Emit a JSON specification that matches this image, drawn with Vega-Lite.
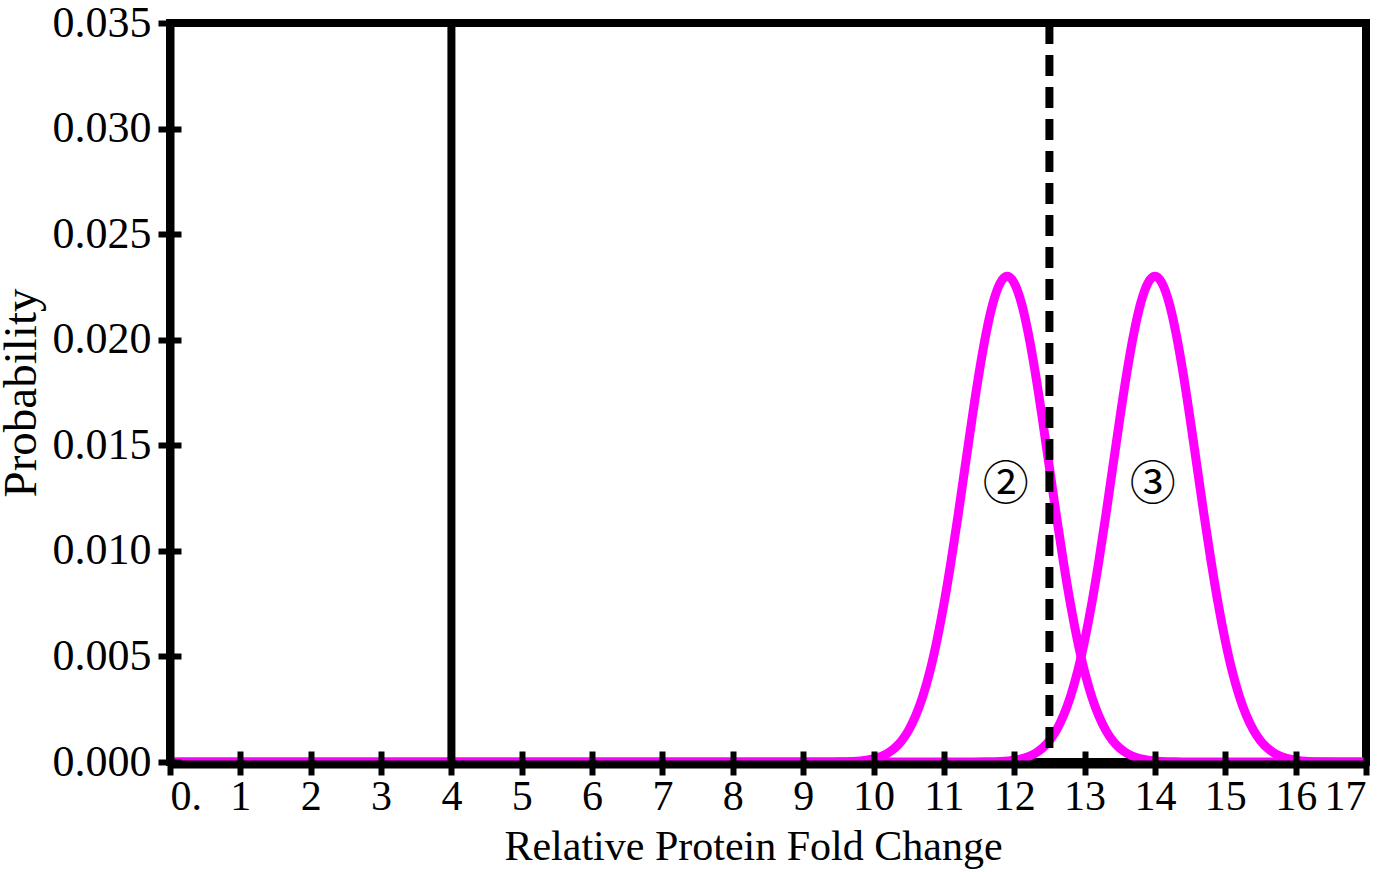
{
  "$schema": "https://vega.github.io/schema/vega-lite/v6.json",
  "width": 1196,
  "height": 739,
  "autosize": {"type": "none"},
  "padding": {"left": 170, "top": 23, "right": 23, "bottom": 110},
  "background": "white",
  "config": {
    "view": {"stroke": "black", "strokeWidth": 8},
    "font": "Liberation Serif",
    "axis": {
      "domainColor": "black", "domainWidth": 8, "tickColor": "black", "tickWidth": 6,
      "labelFont": "Liberation Serif", "titleFont": "Liberation Serif",
      "labelFontSize": 44, "titleFontSize": 44, "labelColor": "black", "titleColor": "black",
      "titleFontWeight": "normal", "grid": false, "zindex": 2
    }
  },
  "datasets": {
    "curves": [
      {"x": 0, "p": 0, "s": "2"}, {"x": 5, "p": 0, "s": "2"},
      {"x": 9.3, "p": 0.0000019, "s": "2"}, {"x": 9.5, "p": 0.0000077, "s": "2"},
      {"x": 9.7, "p": 0.0000277, "s": "2"}, {"x": 9.9, "p": 0.0000889, "s": "2"},
      {"x": 10.0, "p": 0.000153, "s": "2"}, {"x": 10.1, "p": 0.000256, "s": "2"},
      {"x": 10.2, "p": 0.000415, "s": "2"}, {"x": 10.3, "p": 0.000657, "s": "2"},
      {"x": 10.4, "p": 0.00101, "s": "2"}, {"x": 10.5, "p": 0.00151, "s": "2"},
      {"x": 10.6, "p": 0.0022, "s": "2"}, {"x": 10.7, "p": 0.00311, "s": "2"},
      {"x": 10.8, "p": 0.00428, "s": "2"}, {"x": 10.9, "p": 0.00574, "s": "2"},
      {"x": 11.0, "p": 0.00747, "s": "2"}, {"x": 11.1, "p": 0.00946, "s": "2"},
      {"x": 11.2, "p": 0.01164, "s": "2"}, {"x": 11.3, "p": 0.01395, "s": "2"},
      {"x": 11.4, "p": 0.01625, "s": "2"}, {"x": 11.5, "p": 0.01842, "s": "2"},
      {"x": 11.6, "p": 0.0203, "s": "2"}, {"x": 11.7, "p": 0.02176, "s": "2"},
      {"x": 11.8, "p": 0.02268, "s": "2"}, {"x": 11.9, "p": 0.023, "s": "2"},
      {"x": 12.0, "p": 0.02268, "s": "2"}, {"x": 12.1, "p": 0.02176, "s": "2"},
      {"x": 12.2, "p": 0.0203, "s": "2"}, {"x": 12.3, "p": 0.01842, "s": "2"},
      {"x": 12.4, "p": 0.01625, "s": "2"}, {"x": 12.5, "p": 0.01395, "s": "2"},
      {"x": 12.6, "p": 0.01164, "s": "2"}, {"x": 12.7, "p": 0.00946, "s": "2"},
      {"x": 12.8, "p": 0.00747, "s": "2"}, {"x": 12.9, "p": 0.00574, "s": "2"},
      {"x": 13.0, "p": 0.00428, "s": "2"}, {"x": 13.1, "p": 0.00311, "s": "2"},
      {"x": 13.2, "p": 0.0022, "s": "2"}, {"x": 13.3, "p": 0.00151, "s": "2"},
      {"x": 13.4, "p": 0.00101, "s": "2"}, {"x": 13.5, "p": 0.000657, "s": "2"},
      {"x": 13.6, "p": 0.000415, "s": "2"}, {"x": 13.7, "p": 0.000256, "s": "2"},
      {"x": 13.8, "p": 0.000153, "s": "2"}, {"x": 13.9, "p": 0.0000889, "s": "2"},
      {"x": 14.1, "p": 0.0000277, "s": "2"}, {"x": 14.3, "p": 0.0000077, "s": "2"},
      {"x": 14.5, "p": 0.0000019, "s": "2"}, {"x": 17, "p": 0, "s": "2"},
      {"x": 0, "p": 0, "s": "3"}, {"x": 8, "p": 0, "s": "3"},
      {"x": 11.4, "p": 0.0000019, "s": "3"}, {"x": 11.6, "p": 0.0000077, "s": "3"},
      {"x": 11.8, "p": 0.0000277, "s": "3"}, {"x": 12.0, "p": 0.0000889, "s": "3"},
      {"x": 12.1, "p": 0.000153, "s": "3"}, {"x": 12.2, "p": 0.000256, "s": "3"},
      {"x": 12.3, "p": 0.000415, "s": "3"}, {"x": 12.4, "p": 0.000657, "s": "3"},
      {"x": 12.5, "p": 0.00101, "s": "3"}, {"x": 12.6, "p": 0.00151, "s": "3"},
      {"x": 12.7, "p": 0.0022, "s": "3"}, {"x": 12.8, "p": 0.00311, "s": "3"},
      {"x": 12.9, "p": 0.00428, "s": "3"}, {"x": 13.0, "p": 0.00574, "s": "3"},
      {"x": 13.1, "p": 0.00747, "s": "3"}, {"x": 13.2, "p": 0.00946, "s": "3"},
      {"x": 13.3, "p": 0.01164, "s": "3"}, {"x": 13.4, "p": 0.01395, "s": "3"},
      {"x": 13.5, "p": 0.01625, "s": "3"}, {"x": 13.6, "p": 0.01842, "s": "3"},
      {"x": 13.7, "p": 0.0203, "s": "3"}, {"x": 13.8, "p": 0.02176, "s": "3"},
      {"x": 13.9, "p": 0.02268, "s": "3"}, {"x": 14.0, "p": 0.023, "s": "3"},
      {"x": 14.1, "p": 0.02268, "s": "3"}, {"x": 14.2, "p": 0.02176, "s": "3"},
      {"x": 14.3, "p": 0.0203, "s": "3"}, {"x": 14.4, "p": 0.01842, "s": "3"},
      {"x": 14.5, "p": 0.01625, "s": "3"}, {"x": 14.6, "p": 0.01395, "s": "3"},
      {"x": 14.7, "p": 0.01164, "s": "3"}, {"x": 14.8, "p": 0.00946, "s": "3"},
      {"x": 14.9, "p": 0.00747, "s": "3"}, {"x": 15.0, "p": 0.00574, "s": "3"},
      {"x": 15.1, "p": 0.00428, "s": "3"}, {"x": 15.2, "p": 0.00311, "s": "3"},
      {"x": 15.3, "p": 0.0022, "s": "3"}, {"x": 15.4, "p": 0.00151, "s": "3"},
      {"x": 15.5, "p": 0.00101, "s": "3"}, {"x": 15.6, "p": 0.000657, "s": "3"},
      {"x": 15.7, "p": 0.000415, "s": "3"}, {"x": 15.8, "p": 0.000256, "s": "3"},
      {"x": 15.9, "p": 0.000153, "s": "3"}, {"x": 16.0, "p": 0.0000889, "s": "3"},
      {"x": 16.2, "p": 0.0000277, "s": "3"}, {"x": 16.4, "p": 0.0000077, "s": "3"},
      {"x": 16.6, "p": 0.0000019, "s": "3"}, {"x": 17, "p": 0, "s": "3"}
    ]
  },
  "layer": [
    {
      "data": {"name": "curves"},
      "mark": {"type": "line", "color": "#ff00ff", "strokeWidth": 9, "interpolate": "monotone"},
      "encoding": {
        "x": {
          "field": "x", "type": "quantitative",
          "scale": {"domain": [0, 17], "nice": false, "zero": false},
          "axis": {
            "orient": "bottom", "offset": 2, "zindex": 2,
            "values": [0, 1, 2, 3, 4, 5, 6, 7, 8, 9, 10, 11, 12, 13, 14, 15, 16, 17],
            "tickSize": 11, "labelPadding": 1, "labelFontSize": 42, "labelOverlap": false,
            "labelExpr": "datum.value == 0 ? '0.' : datum.label",
            "title": "Relative Protein Fold Change", "titlePadding": 9, "titleFontSize": 42,
            "titleX": 583
          }
        },
        "y": {
          "field": "p", "type": "quantitative",
          "scale": {"domain": [0, 0.035], "nice": false},
          "axis": {
            "orient": "left", "zindex": 2,
            "values": [0, 0.005, 0.01, 0.015, 0.02, 0.025, 0.03, 0.035],
            "format": ".3f", "tickSize": 12, "labelPadding": 7,
            "title": "Probability", "titlePadding": 7, "titleFontSize": 47
          }
        },
        "detail": {"field": "s"}
      }
    },
    {
      "data": {"values": [{"x": 4}]},
      "mark": {"type": "rule", "color": "black", "strokeWidth": 8},
      "encoding": {
        "x": {
          "field": "x", "type": "quantitative",
          "axis": {
            "orient": "bottom", "zindex": 2,
            "values": [0, 1, 2, 3, 4, 5, 6, 7, 8, 9, 10, 11, 12, 13, 14, 15, 16, 17],
            "tickSize": -11, "labels": false, "domain": false, "title": null
          }
        }
      }
    },
    {
      "data": {"values": [{"x": 12.5}]},
      "mark": {"type": "rule", "color": "black", "strokeWidth": 8, "strokeDash": [21, 11]},
      "encoding": {
        "x": {"field": "x", "type": "quantitative", "axis": null}
      }
    },
    {
      "data": {"values": [{"x": 11.88, "p": 0.0131, "t": "②"}, {"x": 13.97, "p": 0.0131, "t": "③"}]},
      "mark": {"type": "text", "fontSize": 46, "font": "Noto Sans CJK JP", "color": "black", "align": "center", "baseline": "middle"},
      "encoding": {
        "x": {"field": "x", "type": "quantitative", "axis": null},
        "y": {
          "field": "p", "type": "quantitative",
          "axis": {
            "orient": "left", "zindex": 2,
            "values": [0, 0.005, 0.01, 0.015, 0.02, 0.025, 0.03, 0.035],
            "tickSize": -11, "labels": false, "domain": false, "title": null
          }
        },
        "text": {"field": "t"}
      }
    }
  ],
  "resolve": {"axis": {"x": "independent", "y": "independent"}}
}
